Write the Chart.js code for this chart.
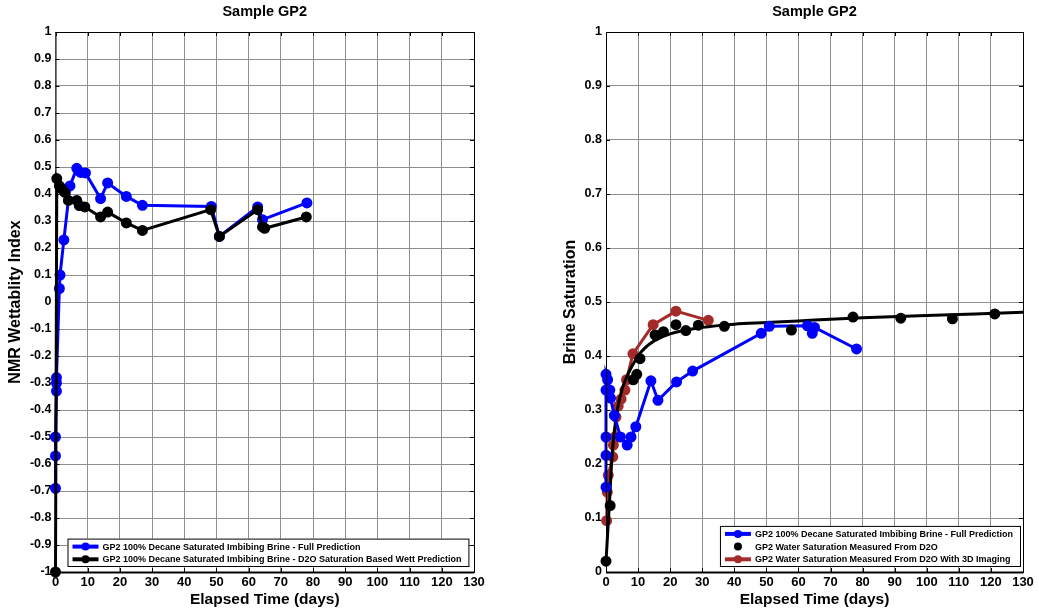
<!DOCTYPE html>
<html>
<head>
<meta charset="utf-8">
<script src="https://cdn.jsdelivr.net/npm/chart.js@4.4.1/dist/chart.umd.min.js"></script>
<style>
  body { margin: 0; background: #fff; }
  #wrap { position: relative; width: 1039px; height: 611px; }
  canvas { position: absolute; top: 0; }
  #wettChart { left: 0; }
  #satChart { left: 519px; }
</style>
</head>
<body>
<div id="wrap">
  <canvas id="wettChart" width="519" height="611"></canvas>
  <canvas id="satChart" width="520" height="611"></canvas>
</div>
<script>
// ---- axis ticks ----
const dayTicks = [0, 10, 20, 30, 40, 50, 60, 70, 80, 90, 100, 110, 120, 130];
const wettTicks = [-1, -0.9, -0.8, -0.7, -0.6, -0.5, -0.4, -0.3, -0.2, -0.1, 0, 0.1, 0.2, 0.3, 0.4, 0.5, 0.6, 0.7, 0.8, 0.9, 1];
const satTicks = [0, 0.1, 0.2, 0.3, 0.4, 0.5, 0.6, 0.7, 0.8, 0.9, 1];

// ---- NMR wettability index (left) ----
const wettFullDays  = [0, 0, 0, 0.3, 0.3, 0.3, 1.2, 1.4, 2.6, 4.5, 6.6, 7.8, 9.3, 14.0, 16.2, 22.0, 27.0, 48.4, 50.9, 62.8, 64.3, 78.1];
const wettFullIndex = [-0.69, -0.57, -0.50, -0.33, -0.30, -0.28, 0.05, 0.10, 0.23, 0.43, 0.495, 0.48, 0.478, 0.383, 0.441, 0.391, 0.358, 0.354, 0.243, 0.352, 0.305, 0.367];

const wettD2ODays  = [0, 0.4, 1.2, 1.9, 2.9, 4.0, 6.6, 7.4, 9.1, 14.0, 16.2, 22.0, 27.0, 48.2, 50.9, 62.8, 64.3, 65.0, 77.9];
const wettD2OIndex = [-1.0, 0.457, 0.43, 0.42, 0.406, 0.376, 0.376, 0.357, 0.352, 0.315, 0.333, 0.293, 0.265, 0.342, 0.243, 0.342, 0.278, 0.273, 0.315];

// ---- brine saturation (right) ----
const satFullDays   = [0, 0, 0, 0, 0.5, 0, 1.2, 1.4, 2.6, 4.5, 6.6, 7.8, 9.3, 14.0, 16.2, 22.0, 27.0, 48.4, 50.9, 62.8, 64.3, 65.0, 78.1];
const satFullValues = [0.157, 0.216, 0.25, 0.366, 0.356, 0.337, 0.337, 0.322, 0.29, 0.25, 0.235, 0.25, 0.269, 0.354, 0.318, 0.352, 0.372, 0.442, 0.455, 0.456, 0.442, 0.453, 0.413];

const satD2ODays   = [0, 1.3, 8.5, 9.6, 10.6, 15.3, 17.9, 21.8, 24.9, 28.8, 36.9, 57.8, 77.0, 91.9, 108.0, 121.2];
const satD2OValues = [0.02, 0.123, 0.356, 0.366, 0.395, 0.439, 0.445, 0.458, 0.447, 0.457, 0.455, 0.448, 0.472, 0.470, 0.469, 0.478];

const sat3DDays   = [0.2, 0.4, 0.7, 2.1, 2.3, 2.8, 3.1, 3.8, 4.7, 5.9, 6.4, 8.4, 14.7, 21.8, 31.9];
const sat3DValues = [0.095, 0.148, 0.179, 0.213, 0.235, 0.25, 0.287, 0.307, 0.32, 0.337, 0.356, 0.404, 0.458, 0.483, 0.466];

// fitted trend through the D2O saturation points
const fitDays   = [0, 1, 2, 3, 4, 5, 6, 8, 10, 12, 15, 20, 30, 40, 50, 60, 70, 80, 100, 130];
const fitValues = [0.02, 0.12, 0.225, 0.28, 0.315, 0.338, 0.355, 0.38, 0.4, 0.414, 0.428, 0.441, 0.453, 0.459, 0.462, 0.465, 0.468, 0.471, 0.475, 0.481];

const BLUE = '#0000ff';
const BLACK = '#000000';
const BROWN = '#a52a2a';
const FONT = 'Liberation Sans, Arial, sans-serif';

function pairs(xs, ys) {
    return xs.map((x, i) => ({ x: x, y: ys[i] }));
}

function fmt(v) {
    return String(Math.round(v * 10) / 10);
}

// box around the plot plus small inward tick marks on all sides
const frame = {
    id: 'frame',
    afterDatasetsDraw(chart) {
        const { ctx, chartArea: a, scales } = chart;
        ctx.save();
        ctx.strokeStyle = '#000';
        ctx.lineWidth = 1;
        ctx.strokeRect(a.left + 0.5, a.top + 0.5, a.right - a.left, a.bottom - a.top);
        ctx.beginPath();
        scales.x.ticks.forEach(t => {
            const px = Math.round(scales.x.getPixelForValue(t.value)) + 0.5;
            ctx.moveTo(px, a.bottom); ctx.lineTo(px, a.bottom - 4);
            ctx.moveTo(px, a.top); ctx.lineTo(px, a.top + 4);
        });
        scales.y.ticks.forEach(t => {
            const py = Math.round(scales.y.getPixelForValue(t.value)) + 0.5;
            ctx.moveTo(a.left, py); ctx.lineTo(a.left + 4, py);
            ctx.moveTo(a.right, py); ctx.lineTo(a.right - 4, py);
        });
        ctx.stroke();
        ctx.lineWidth = 2;
        ctx.beginPath();
        ctx.moveTo(a.left, a.bottom + 0.5);
        ctx.lineTo(a.right, a.bottom + 0.5);
        ctx.stroke();
        ctx.restore();
    }
};

// legend drawn in a box inside the plot area
const boxLegend = {
    id: 'boxLegend',
    afterDraw(chart, args, opts) {
        const { ctx, chartArea: a } = chart;
        const items = chart.data.datasets.filter(d => !d.noLegend);
        ctx.save();
        ctx.font = 'bold 9px ' + FONT;
        const textW = Math.max(...items.map(d => ctx.measureText(d.label).width));
        const rowH = 12.7;
        const w = 35 + textW + 7;
        const h = rowH * items.length + 2;
        const x0 = opts.side === 'left' ? a.left + 12 : a.right - 3 - w;
        const y0 = a.bottom - 6 - h;
        ctx.fillStyle = '#fff';
        ctx.fillRect(x0, y0, w, h);
        ctx.strokeStyle = '#000';
        ctx.lineWidth = 1;
        ctx.strokeRect(x0 + 0.5, y0 + 0.5, w, h);
        items.forEach((d, i) => {
            const cy = y0 + 8 + i * rowH;
            if (d.showLine !== false) {
                ctx.strokeStyle = d.borderColor;
                ctx.lineWidth = 4;
                ctx.beginPath();
                ctx.moveTo(x0 + 5, cy);
                ctx.lineTo(x0 + 31, cy);
                ctx.stroke();
            }
            ctx.fillStyle = d.pointBackgroundColor;
            ctx.beginPath();
            ctx.arc(x0 + 18, cy, 4, 0, Math.PI * 2);
            ctx.fill();
            ctx.fillStyle = '#000';
            ctx.textBaseline = 'middle';
            ctx.fillText(d.label, x0 + 35, cy + 0.5);
        });
        ctx.restore();
    }
};

function lineSet(label, xs, ys, color, order) {
    return {
        label: label,
        data: pairs(xs, ys),
        borderColor: color,
        backgroundColor: color,
        pointBackgroundColor: color,
        pointBorderColor: color,
        pointRadius: 4,
        borderWidth: 3,
        tension: 0,
        clip: false,
        order: order
    };
}

function baseOptions(yTicks, yMin, yMax, yTitle, yWidth, padLeft, padRight, legendSide) {
    return {
        responsive: false,
        animation: false,
        layout: { padding: { left: padLeft, right: padRight, top: 0, bottom: 0 } },
        scales: {
            x: {
                type: 'linear',
                min: 0,
                max: 130,
                afterBuildTicks: s => { s.ticks = dayTicks.map(v => ({ value: v })); },
                afterFit: s => { s.height = 39; },
                grid: { color: '#8f8f8f', lineWidth: 1, drawTicks: false },
                border: { display: false },
                ticks: {
                    color: '#000',
                    padding: 3,
                    maxRotation: 0,
                    autoSkip: false,
                    font: { family: FONT, size: 13, weight: 'bold' }
                },
                title: {
                    display: true,
                    text: 'Elapsed Time (days)',
                    color: '#000',
                    padding: { top: 0, bottom: 1.5 },
                    font: { family: FONT, size: 15.5, weight: 'bold' }
                }
            },
            y: {
                type: 'linear',
                min: yMin,
                max: yMax,
                afterBuildTicks: s => { s.ticks = yTicks.map(v => ({ value: v })); },
                afterFit: s => { s.width = yWidth; },
                grid: { color: '#8f8f8f', lineWidth: 1, drawTicks: false },
                border: { display: false },
                ticks: {
                    color: '#000',
                    padding: 4,
                    autoSkip: false,
                    callback: v => fmt(v),
                    font: { family: FONT, size: 12.5, weight: 'bold' }
                },
                title: {
                    display: true,
                    text: yTitle,
                    color: '#000',
                    padding: { top: 5.5, bottom: 0 },
                    font: { family: FONT, size: 16, weight: 'bold' }
                }
            }
        },
        plugins: {
            legend: { display: false },
            tooltip: { enabled: false },
            title: {
                display: true,
                fullSize: false,
                text: 'Sample GP2',
                color: '#000',
                padding: { top: 3, bottom: 11.6 },
                font: { family: FONT, size: 14.5, weight: 'bold' }
            },
            boxLegend: { side: legendSide }
        }
    };
}

new Chart(document.getElementById('wettChart'), {
    type: 'line',
    data: {
        datasets: [
            lineSet('GP2 100% Decane Saturated Imbibing Brine - Full Prediction', wettFullDays, wettFullIndex, BLUE, 2),
            lineSet('GP2 100% Decane Saturated Imbibing Brine - D2O Saturation Based Wett Prediction', wettD2ODays, wettD2OIndex, BLACK, 1)
        ]
    },
    options: baseOptions(wettTicks, -1, 1, 'NMR Wettablity Index', 55.5, 0, 45, 'left'),
    plugins: [frame, boxLegend]
});

const fitLine = {
    label: 'fit',
    noLegend: true,
    data: pairs(fitDays, fitValues),
    borderColor: BLACK,
    borderWidth: 3,
    pointRadius: 0,
    cubicInterpolationMode: 'monotone',
    clip: false,
    order: 3
};

const d2oDots = lineSet('GP2 Water Saturation Measured From D2O', satD2ODays, satD2OValues, BLACK, 1);
d2oDots.showLine = false;

new Chart(document.getElementById('satChart'), {
    type: 'line',
    data: {
        datasets: [
            lineSet('GP2 100% Decane Saturated Imbibing Brine - Full Prediction', satFullDays, satFullValues, BLUE, 2),
            d2oDots,
            lineSet('GP2 Water Saturation Measured From D2O With 3D Imaging', sat3DDays, sat3DValues, BROWN, 4),
            fitLine
        ]
    },
    options: baseOptions(satTicks, 0, 1, 'Brine Saturation', 51, 36, 16, 'right'),
    plugins: [frame, boxLegend]
});
</script>
</body>
</html>
